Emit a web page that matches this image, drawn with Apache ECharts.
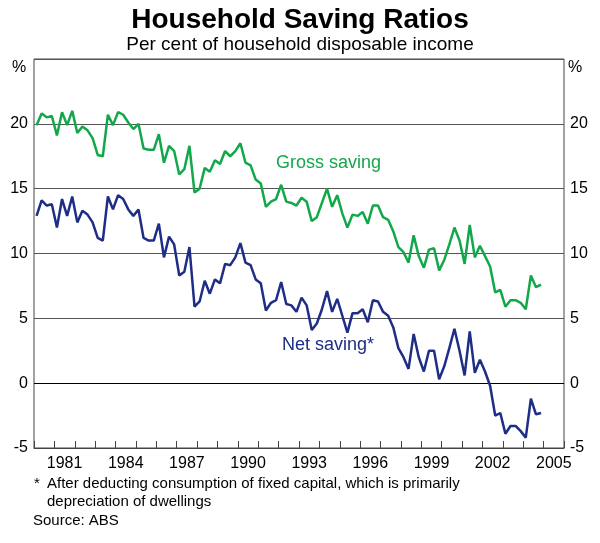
<!DOCTYPE html>
<html>
<head>
<meta charset="utf-8">
<script src="https://cdn.jsdelivr.net/npm/echarts@6/dist/echarts.min.js"></script>
<style>
html,body{margin:0;padding:0;background:#fff;}
#chart{width:600px;height:543px;}
</style>
</head>
<body>
<div id="chart"></div>
<script>
// Quarterly data, starting 1980 Q1 (per cent of household disposable income)
var startYear = 1980;
var grossSaving = [
  19.9, 20.8, 20.5, 20.6, 19.1, 20.9, 19.9, 21.0, 19.3, 19.8,
  19.5, 18.9, 17.6, 17.5, 20.7, 19.9, 20.9, 20.7, 20.1, 19.6,
  20.0, 18.1, 18.0, 18.0, 19.2, 17.0, 18.3, 17.9, 16.1, 16.5,
  18.3, 14.7, 15.0, 16.6, 16.3, 17.2, 16.9, 17.9, 17.5, 17.9,
  18.5, 17.0, 16.8, 15.7, 15.4, 13.6, 14.0, 14.2, 15.3, 14.0,
  13.9, 13.7, 14.3, 14.0, 12.5, 12.8, 13.9, 15.0, 13.6, 14.5,
  13.1, 12.0, 13.0, 12.9, 13.2, 12.3, 13.7, 13.7, 12.8, 12.6,
  11.7, 10.5, 10.1, 9.3, 11.4, 9.8, 8.9, 10.3, 10.4, 8.7,
  9.5, 10.7, 12.0, 11.0, 9.2, 12.2, 9.7, 10.6, 9.8, 9.0,
  7.0, 7.2, 5.9, 6.4, 6.4, 6.2, 5.7, 8.3, 7.4, 7.6
];
var netSaving = [
  12.9, 14.1, 13.7, 13.8, 12.0, 14.2, 12.9, 14.4, 12.4, 13.3,
  13.0, 12.4, 11.2, 11.0, 14.4, 13.4, 14.5, 14.2, 13.4, 12.9,
  13.4, 11.2, 11.0, 11.0, 12.3, 9.7, 11.3, 10.7, 8.3, 8.6,
  10.5, 5.9, 6.3, 7.9, 6.9, 8.0, 7.7, 9.2, 9.1, 9.7,
  10.8, 9.3, 9.1, 8.0, 7.7, 5.6, 6.2, 6.4, 7.8, 6.1,
  6.0, 5.5, 6.6, 6.0, 4.1, 4.6, 5.7, 7.1, 5.5, 6.5,
  5.2, 3.9, 5.4, 5.4, 5.7, 4.7, 6.4, 6.3, 5.5, 5.2,
  4.3, 2.7, 2.0, 1.1, 3.8, 2.0, 0.9, 2.5, 2.5, 0.3,
  1.3, 2.7, 4.2, 2.5, 0.6, 4.0, 0.8, 1.8, 0.9, -0.2,
  -2.5, -2.3, -3.9, -3.3, -3.3, -3.7, -4.2, -1.2, -2.4, -2.3
];
var yearCategories = [];
for (var yr = 1980; yr <= 2005; yr++) yearCategories.push(String(yr));
var labelledYears = ['1981','1984','1987','1990','1993','1996','1999','2002','2005'];
var yTicks = [-5, 0, 5, 10, 15, 20];

function toPoints(arr) {
  return arr.map(function (v, i) { return [startYear + i / 4 + 0.125, v]; });
}

var FONT = '"Liberation Sans", Arial, sans-serif';
var GREEN = '#12A84A';
var NAVY = '#1E2D85';

var chart = echarts.init(document.getElementById('chart'), null, {renderer: 'canvas'});
chart.setOption({
  animation: false,
  backgroundColor: '#fff',
  textStyle: {fontFamily: FONT},
  title: {
    text: 'Household Saving Ratios',
    subtext: 'Per cent of household disposable income',
    left: 'center',
    top: 1,
    itemGap: 1,
    textStyle: {fontFamily: FONT, fontSize: 28, fontWeight: 'bold', color: '#000'},
    subtextStyle: {fontFamily: FONT, fontSize: 19, color: '#000'}
  },
  grid: {left: 34, right: 36, top: 59, bottom: 95, show: true, borderColor: '#444', borderWidth: 1, backgroundColor: 'transparent'},
  xAxis: [{
    type: 'category',
    data: yearCategories,
    boundaryGap: true,
    axisLine: {show: true, onZero: false, lineStyle: {color: '#444', width: 1}},
    axisTick: {show: true, inside: true, length: 7, interval: 0, alignWithLabel: false, lineStyle: {color: '#444'}},
    axisLabel: {
      interval: function (idx, val) { return labelledYears.indexOf(val) >= 0; },
      fontFamily: FONT, fontSize: 16, color: '#000', margin: 8
    },
    splitLine: {show: false}
  }, {
    type: 'value', min: 1980, max: 2006, show: false
  }],
  yAxis: [{
    type: 'value', min: -5, max: 25, interval: 5, position: 'left',
    axisLine: {show: false}, axisTick: {show: false},
    axisLabel: {formatter: function (v) { return yTicks.indexOf(v) >= 0 ? String(v) : ''; }, fontFamily: FONT, fontSize: 16, color: '#000', margin: 6},
    splitLine: {show: true, lineStyle: {color: '#555', width: 1}}
  }, {
    type: 'value', min: -5, max: 25, interval: 5, position: 'right',
    axisLine: {show: false}, axisTick: {show: false},
    axisLabel: {formatter: function (v) { return yTicks.indexOf(v) >= 0 ? String(v) : ''; }, fontFamily: FONT, fontSize: 16, color: '#000', margin: 6},
    splitLine: {show: false}
  }],
  series: [{
    name: 'Gross saving', type: 'line', xAxisIndex: 1, yAxisIndex: 0,
    data: toPoints(grossSaving), symbol: 'none', silent: true,
    lineStyle: {color: GREEN, width: 2.5}, z: 3
  }, {
    name: 'Net saving*', type: 'line', xAxisIndex: 1, yAxisIndex: 0,
    data: toPoints(netSaving), symbol: 'none', silent: true,
    lineStyle: {color: NAVY, width: 2.5}, z: 3,
    markLine: {silent: true, symbol: 'none', label: {show: false}, lineStyle: {color: '#000', width: 1, type: 'solid'}, data: [{yAxis: 0}], z: 2}
  }],
  graphic: [
    {type: 'text', left: 12, top: 60, style: {text: '%', font: '16px ' + FONT, fill: '#000'}},
    {type: 'text', left: 568, top: 60, style: {text: '%', font: '16px ' + FONT, fill: '#000'}},
    {type: 'text', left: 276, top: 154, style: {text: 'Gross saving', font: '18px ' + FONT, fill: GREEN}},
    {type: 'text', left: 282, top: 336, style: {text: 'Net saving*', font: '18px ' + FONT, fill: NAVY}},
    {type: 'text', left: 34, top: 476, style: {text: '*', font: '15px ' + FONT, fill: '#000'}},
    {type: 'text', left: 47, top: 476, style: {text: 'After deducting consumption of fixed capital, which is primarily', font: '15px ' + FONT, fill: '#000'}},
    {type: 'text', left: 47, top: 494, style: {text: 'depreciation of dwellings', font: '15px ' + FONT, fill: '#000'}},
    {type: 'text', left: 33, top: 513, style: {text: 'Source: ABS', font: '15px ' + FONT, fill: '#000'}}
  ]
});
</script>
</body>
</html>
